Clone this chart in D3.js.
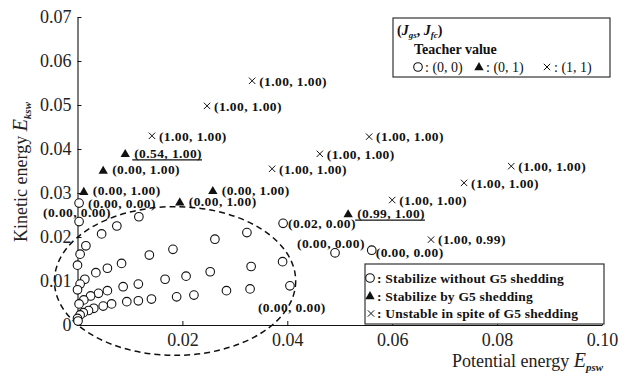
<!DOCTYPE html>
<html>
<head>
<meta charset="utf-8">
<script src="https://cdn.jsdelivr.net/npm/d3@7"></script>
<style>
  html, body { margin: 0; padding: 0; background: #fff; }
  svg { display: block; font-family: "Liberation Serif", "Times New Roman", serif; }
</style>
</head>
<body>
<div id="chart"></div>
<script>
// axis ticks
const xTicks = [0.02, 0.04, 0.06, 0.08, 0.10];
const xTickLabels = ["0.02", "0.04", "0.06", "0.08", "0.10"];
const yTicks = [0, 0.01, 0.02, 0.03, 0.04, 0.05, 0.06, 0.07];
const yTickLabels = ["0", "0.01", "0.02", "0.03", "0.04", "0.05", "0.06", "0.07"];

// open circles: stabilize without G5 shedding (no label)
const stableP = [0.0016, 0.0005, 0.0046, 0.0075, 0.0117, 0.0000, 0.0035, 0.0057, 0.0084, 0.0137,
  0.0182, 0.0262, 0.0323, 0.0014, 0.0005, 0.0000, 0.0207, 0.0167, 0.0116, 0.0087,
  0.0057, 0.0040, 0.0025, 0.0012, 0.0003, 0.0253, 0.0331, 0.0391, 0.0329, 0.0284,
  0.0222, 0.0189, 0.0141, 0.0116, 0.0094, 0.0065, 0.0049, 0.0031, 0.0021, 0.0011,
  0.0005, 0.0000, 0.0001];
const stableK = [0.0180, 0.0161, 0.0207, 0.0225, 0.0246, 0.0136, 0.0119, 0.0129, 0.0140, 0.0159,
  0.0172, 0.0195, 0.0210, 0.0104, 0.0093, 0.0080, 0.0111, 0.0104, 0.0093, 0.0087,
  0.0078, 0.0072, 0.0066, 0.0057, 0.0048, 0.0121, 0.0133, 0.0144, 0.0082, 0.0078,
  0.0068, 0.0064, 0.0059, 0.0055, 0.0053, 0.0048, 0.0043, 0.0038, 0.0033, 0.0028,
  0.0023, 0.0015, 0.0009];

// open circles with output label
const stableLabP = [0.0003, 0.0003, 0.0405, 0.0392, 0.0491, 0.0561];
const stableLabK = [0.0277, 0.0235, 0.0089, 0.0231, 0.0164, 0.0170];
const stableLabText = ["(0.00, 0.00)", "(0.00, 0.00)", "(0.00, 0.00)", "(0.02, 0.00)", "(0.00, 0.00)", "(0.00, 0.00)"];

// filled triangles: stabilize by G5 shedding
const shedP = [0.0091, 0.0049, 0.0012, 0.0258, 0.0195, 0.0516];
const shedK = [0.0389, 0.0351, 0.0303, 0.0305, 0.0279, 0.0252];
const shedText = ["(0.54, 1.00)", "(0.00, 1.00)", "(0.00, 1.00)", "(0.00, 1.00)", "(0.00, 1.00)", "(0.99, 1.00)"];

// crosses: unstable in spite of G5 shedding
const unstP = [0.0333, 0.0247, 0.0142, 0.0556, 0.0462, 0.0371, 0.0827, 0.0737, 0.0600, 0.0674];
const unstK = [0.0555, 0.0498, 0.0430, 0.0428, 0.0389, 0.0355, 0.0361, 0.0323, 0.0284, 0.0194];
const unstText = ["(1.00, 1.00)", "(1.00, 1.00)", "(1.00, 1.00)", "(1.00, 1.00)", "(1.00, 1.00)",
  "(1.00, 1.00)", "(1.00, 1.00)", "(1.00, 1.00)", "(1.00, 1.00)", "(1.00, 0.99)"];

// dashed region around the stable cluster (centre and half-axes in data units)
const regionCenter = [0.0186, 0.0100];
const regionRadius = [0.0230, 0.0169];

// label placement (pixels from the marker)
const stableLabOffset = [[9, 0], [-36, -9], [-32, 21], [5, 0], [-38, -10], [4, 2]];
const shedUnderline = [true, false, false, false, false, true];

const width = 630, height = 374;
const svg = d3.select('#chart').append('svg')
    .attr('width', width)
    .attr('height', height);

const x = d3.scaleLinear().domain([0, 0.1]).range([77.5, 602]);
const y = d3.scaleLinear().domain([0, 0.07]).range([325, 17]);

const ink = '#111';
const labelFont = 13.5;

// dashed ellipse
svg.append('ellipse')
    .attr('cx', x(regionCenter[0]))
    .attr('cy', y(regionCenter[1]))
    .attr('rx', x(regionRadius[0]) - x(0))
    .attr('ry', y(0) - y(regionRadius[1]))
    .attr('fill', 'none')
    .attr('stroke', ink)
    .attr('stroke-width', 1.5)
    .attr('stroke-dasharray', '6,4');

// axes
const xAxis = svg.append('g')
    .attr('transform', `translate(0,${y(0)})`)
    .call(d3.axisBottom(x).tickValues(xTicks).tickSizeInner(-4).tickSizeOuter(0).tickPadding(8)
        .tickFormat((d, i) => xTickLabels[i]));
const yAxis = svg.append('g')
    .attr('transform', `translate(${x(0)},0)`)
    .call(d3.axisLeft(y).tickValues(yTicks).tickSizeInner(-4).tickSizeOuter(0).tickPadding(6)
        .tickFormat((d, i) => yTickLabels[i]));

[xAxis, yAxis].forEach(g => {
    g.select('.domain').attr('stroke', ink).attr('stroke-width', 1.1);
    g.selectAll('.tick line').attr('stroke', ink);
    g.selectAll('.tick text')
        .attr('fill', '#222')
        .style('font-size', '18px')
        .style('font-family', '"Liberation Serif", "Times New Roman", serif');
});

// axis titles
const yTitle = svg.append('text')
    .attr('transform', 'translate(27,172) rotate(-90)')
    .attr('text-anchor', 'middle')
    .attr('fill', '#222')
    .style('font-size', '18px');
yTitle.append('tspan').text('Kinetic energy ');
yTitle.append('tspan').text('E').style('font-style', 'italic').style('font-size', '20px');
yTitle.append('tspan').text('ksw').attr('dy', 4).style('font-style', 'italic')
    .style('font-weight', 'bold').style('font-size', '11px');

const xTitle = svg.append('text')
    .attr('x', 603)
    .attr('y', 367)
    .attr('text-anchor', 'end')
    .attr('fill', '#222')
    .style('font-size', '18px');
xTitle.append('tspan').text('Potential energy ');
xTitle.append('tspan').text('E').style('font-style', 'italic').style('font-size', '20px');
xTitle.append('tspan').text('psw').attr('dy', 4).style('font-style', 'italic')
    .style('font-weight', 'bold').style('font-size', '11px');

// marker helpers
const triPath = d3.symbol().type(d3.symbolTriangle).size(38);
const crossPath = (s) => `M${-s},${-s}L${s},${s}M${-s},${s}L${s},${-s}`;

function drawCircle(g, cx, cy) {
    g.append('circle')
        .attr('cx', cx).attr('cy', cy).attr('r', 4.3)
        .attr('fill', '#fff')
        .attr('stroke', ink)
        .attr('stroke-width', 1.1);
}
function drawTriangle(g, cx, cy) {
    g.append('path')
        .attr('d', triPath())
        .attr('transform', `translate(${cx},${cy + 0.5})`)
        .attr('fill', ink);
}
function drawCross(g, cx, cy) {
    g.append('path')
        .attr('d', crossPath(3.2))
        .attr('transform', `translate(${cx},${cy})`)
        .attr('stroke', ink)
        .attr('stroke-width', 1);
}
function pointLabel(g, px, py, txt, underline) {
    const t = g.append('text')
        .attr('x', px)
        .attr('y', py)
        .attr('dy', '0.35em')
        .attr('fill', ink)
        .style('font-size', labelFont + 'px')
        .style('font-weight', 'bold')
        .style('letter-spacing', '0.4px')
        .text(txt);
    if (underline) {
        const len = t.node().getComputedTextLength();
        g.append('line')
            .attr('x1', px - 2).attr('x2', px + len)
            .attr('y1', py + 7).attr('y2', py + 7)
            .attr('stroke', ink)
            .attr('stroke-width', 1.4);
    }
}

const marks = svg.append('g');

// unlabeled stable points
stableP.forEach((p, i) => drawCircle(marks, x(p), y(stableK[i])));

// labeled stable points
stableLabP.forEach((p, i) => {
    drawCircle(marks, x(p), y(stableLabK[i]));
    pointLabel(marks, x(p) + stableLabOffset[i][0], y(stableLabK[i]) + stableLabOffset[i][1], stableLabText[i], false);
});

// triangles
shedP.forEach((p, i) => {
    drawTriangle(marks, x(p), y(shedK[i]));
    pointLabel(marks, x(p) + 9, y(shedK[i]) - 1, shedText[i], shedUnderline[i]);
});

// crosses
unstP.forEach((p, i) => {
    drawCross(marks, x(p), y(unstK[i]));
    pointLabel(marks, x(p) + 7, y(unstK[i]), unstText[i], false);
});

// legend: teacher values
const leg1 = svg.append('g');
leg1.append('rect')
    .attr('x', 393).attr('y', 18).attr('width', 217).attr('height', 59)
    .attr('fill', '#fff').attr('stroke', '#333').attr('stroke-width', 1.2);
const jt = leg1.append('text').attr('x', 397).attr('y', 35).attr('fill', ink)
    .style('font-size', '14px').style('font-weight', 'bold');
jt.append('tspan').text('(');
jt.append('tspan').text('J').style('font-style', 'italic');
jt.append('tspan').text('gs').attr('dy', 3).style('font-style', 'italic').style('font-size', '9px');
jt.append('tspan').text(', ').attr('dy', -3);
jt.append('tspan').text('J').style('font-style', 'italic');
jt.append('tspan').text('fc').attr('dy', 3).style('font-style', 'italic').style('font-size', '9px');
jt.append('tspan').text(')').attr('dy', -3);
leg1.append('text').attr('x', 414).attr('y', 54).attr('fill', ink)
    .style('font-size', '14px').style('font-weight', 'bold').text('Teacher value');

const teacherText = [': (0, 0)', ': (0, 1)', ': (1, 1)'];
const teacherMarkX = [418, 479, 547];
drawCircle(leg1, teacherMarkX[0], 67);
drawTriangle(leg1, teacherMarkX[1], 67);
drawCross(leg1, teacherMarkX[2], 67);
teacherText.forEach((t, i) => {
    leg1.append('text')
        .attr('x', teacherMarkX[i] + 7).attr('y', 67).attr('dy', '0.35em')
        .attr('fill', ink).style('font-size', '14px')
        .text(t);
});

// legend: outcome classes
const outcomeText = [': Stabilize without G5 shedding', ': Stabilize by G5 shedding', ': Unstable in spite of G5 shedding'];
const leg2 = svg.append('g');
leg2.append('rect')
    .attr('x', 365).attr('y', 264).attr('width', 239).attr('height', 60)
    .attr('fill', '#fff').attr('stroke', '#333').attr('stroke-width', 1.2);
const rowY = [278, 296, 313.5];
drawCircle(leg2, 370, rowY[0]);
drawTriangle(leg2, 370, rowY[1]);
drawCross(leg2, 371, rowY[2]);
outcomeText.forEach((t, i) => {
    leg2.append('text')
        .attr('x', 377).attr('y', rowY[i]).attr('dy', '0.35em')
        .attr('fill', ink)
        .style('font-size', '13.5px').style('font-weight', 'bold')
        .style('letter-spacing', '0.2px')
        .text(t);
});
</script>
</body>
</html>
